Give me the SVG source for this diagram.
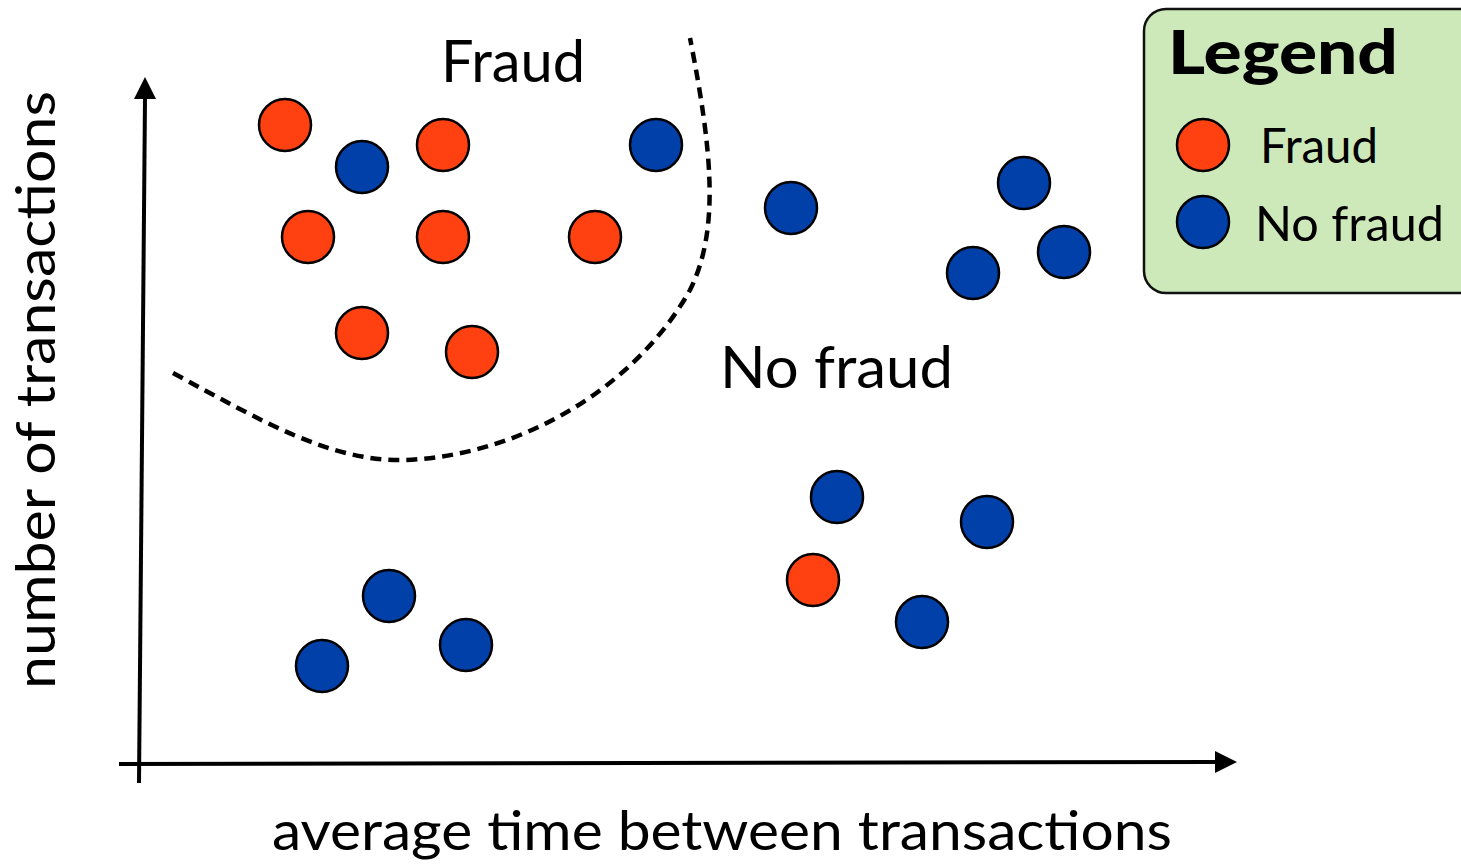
<svg xmlns="http://www.w3.org/2000/svg" width="1461" height="864" viewBox="0 0 1461 864">
<defs>
<style>
.f{fill:#FF4010;stroke:#000;stroke-width:2.5}
.n{fill:#0040A8;stroke:#000;stroke-width:2.5}
.t{font-family:Lato,"Open Sans",sans-serif;fill:#000}
.ax{stroke:#000;stroke-width:4;fill:none}
</style>
</defs>
<rect width="1461" height="864" fill="#fff"/>
<g id="connectors">
<line class="ax" x1="139" y1="783" x2="145" y2="98"/>
<polygon points="145,77 134,99 156,99" fill="#000"/>
<line class="ax" x1="119" y1="764" x2="1216" y2="762"/>
<polygon points="1237,762 1215,751 1215,773" fill="#000"/>
<path d="M173,373 C260,420 330,462 405,460 C530,455 640,380 690,290 C720,230 712,150 690,38" fill="none" stroke="#000" stroke-width="4.5" stroke-dasharray="11,7"/>
</g>
<g id="labels">
<text class="t" x="441" y="82" font-size="58" textLength="144" lengthAdjust="spacingAndGlyphs">Fraud</text>
<text class="t" x="720" y="388" font-size="58" textLength="233" lengthAdjust="spacingAndGlyphs">No fraud</text>
<text class="t" x="272" y="850" font-size="55" textLength="900" lengthAdjust="spacingAndGlyphs">average time between transactions</text>
<text class="t" font-size="55" transform="translate(55,689) rotate(-90)" textLength="598" lengthAdjust="spacingAndGlyphs">number of transactions</text>
</g>
<g id="fraud-points">
<circle class="f" cx="285" cy="125" r="26"/>
<circle class="f" cx="443" cy="145" r="26"/>
<circle class="f" cx="308" cy="237" r="26"/>
<circle class="f" cx="443" cy="237" r="26"/>
<circle class="f" cx="595" cy="237" r="26"/>
<circle class="f" cx="362" cy="333" r="26"/>
<circle class="f" cx="472" cy="352" r="26"/>
<circle class="f" cx="813" cy="580" r="26"/>
</g>
<g id="nofraud-points">
<circle class="n" cx="362" cy="167" r="26"/>
<circle class="n" cx="656" cy="145" r="26"/>
<circle class="n" cx="791" cy="208" r="26"/>
<circle class="n" cx="1024" cy="183" r="26"/>
<circle class="n" cx="1064" cy="252" r="26"/>
<circle class="n" cx="973" cy="273" r="26"/>
<circle class="n" cx="837" cy="497" r="26"/>
<circle class="n" cx="987" cy="522" r="26"/>
<circle class="n" cx="922" cy="622" r="26"/>
<circle class="n" cx="389" cy="596" r="26"/>
<circle class="n" cx="466" cy="645" r="26"/>
<circle class="n" cx="322" cy="666" r="26"/>
</g>
<g id="legend">
<rect x="1144" y="9" width="340" height="284" rx="22" fill="#CDE8B9" stroke="#111" stroke-width="2.5"/>
<text class="t" x="1168" y="74" font-size="60" font-weight="900" textLength="230" lengthAdjust="spacingAndGlyphs">Legend</text>
<circle class="f" cx="1203" cy="145" r="26"/>
<text class="t" x="1260" y="163" font-size="48" textLength="118" lengthAdjust="spacingAndGlyphs">Fraud</text>
<circle class="n" cx="1203" cy="222" r="26"/>
<text class="t" x="1255" y="241" font-size="48" textLength="189" lengthAdjust="spacingAndGlyphs">No fraud</text>
</g>
</svg>
